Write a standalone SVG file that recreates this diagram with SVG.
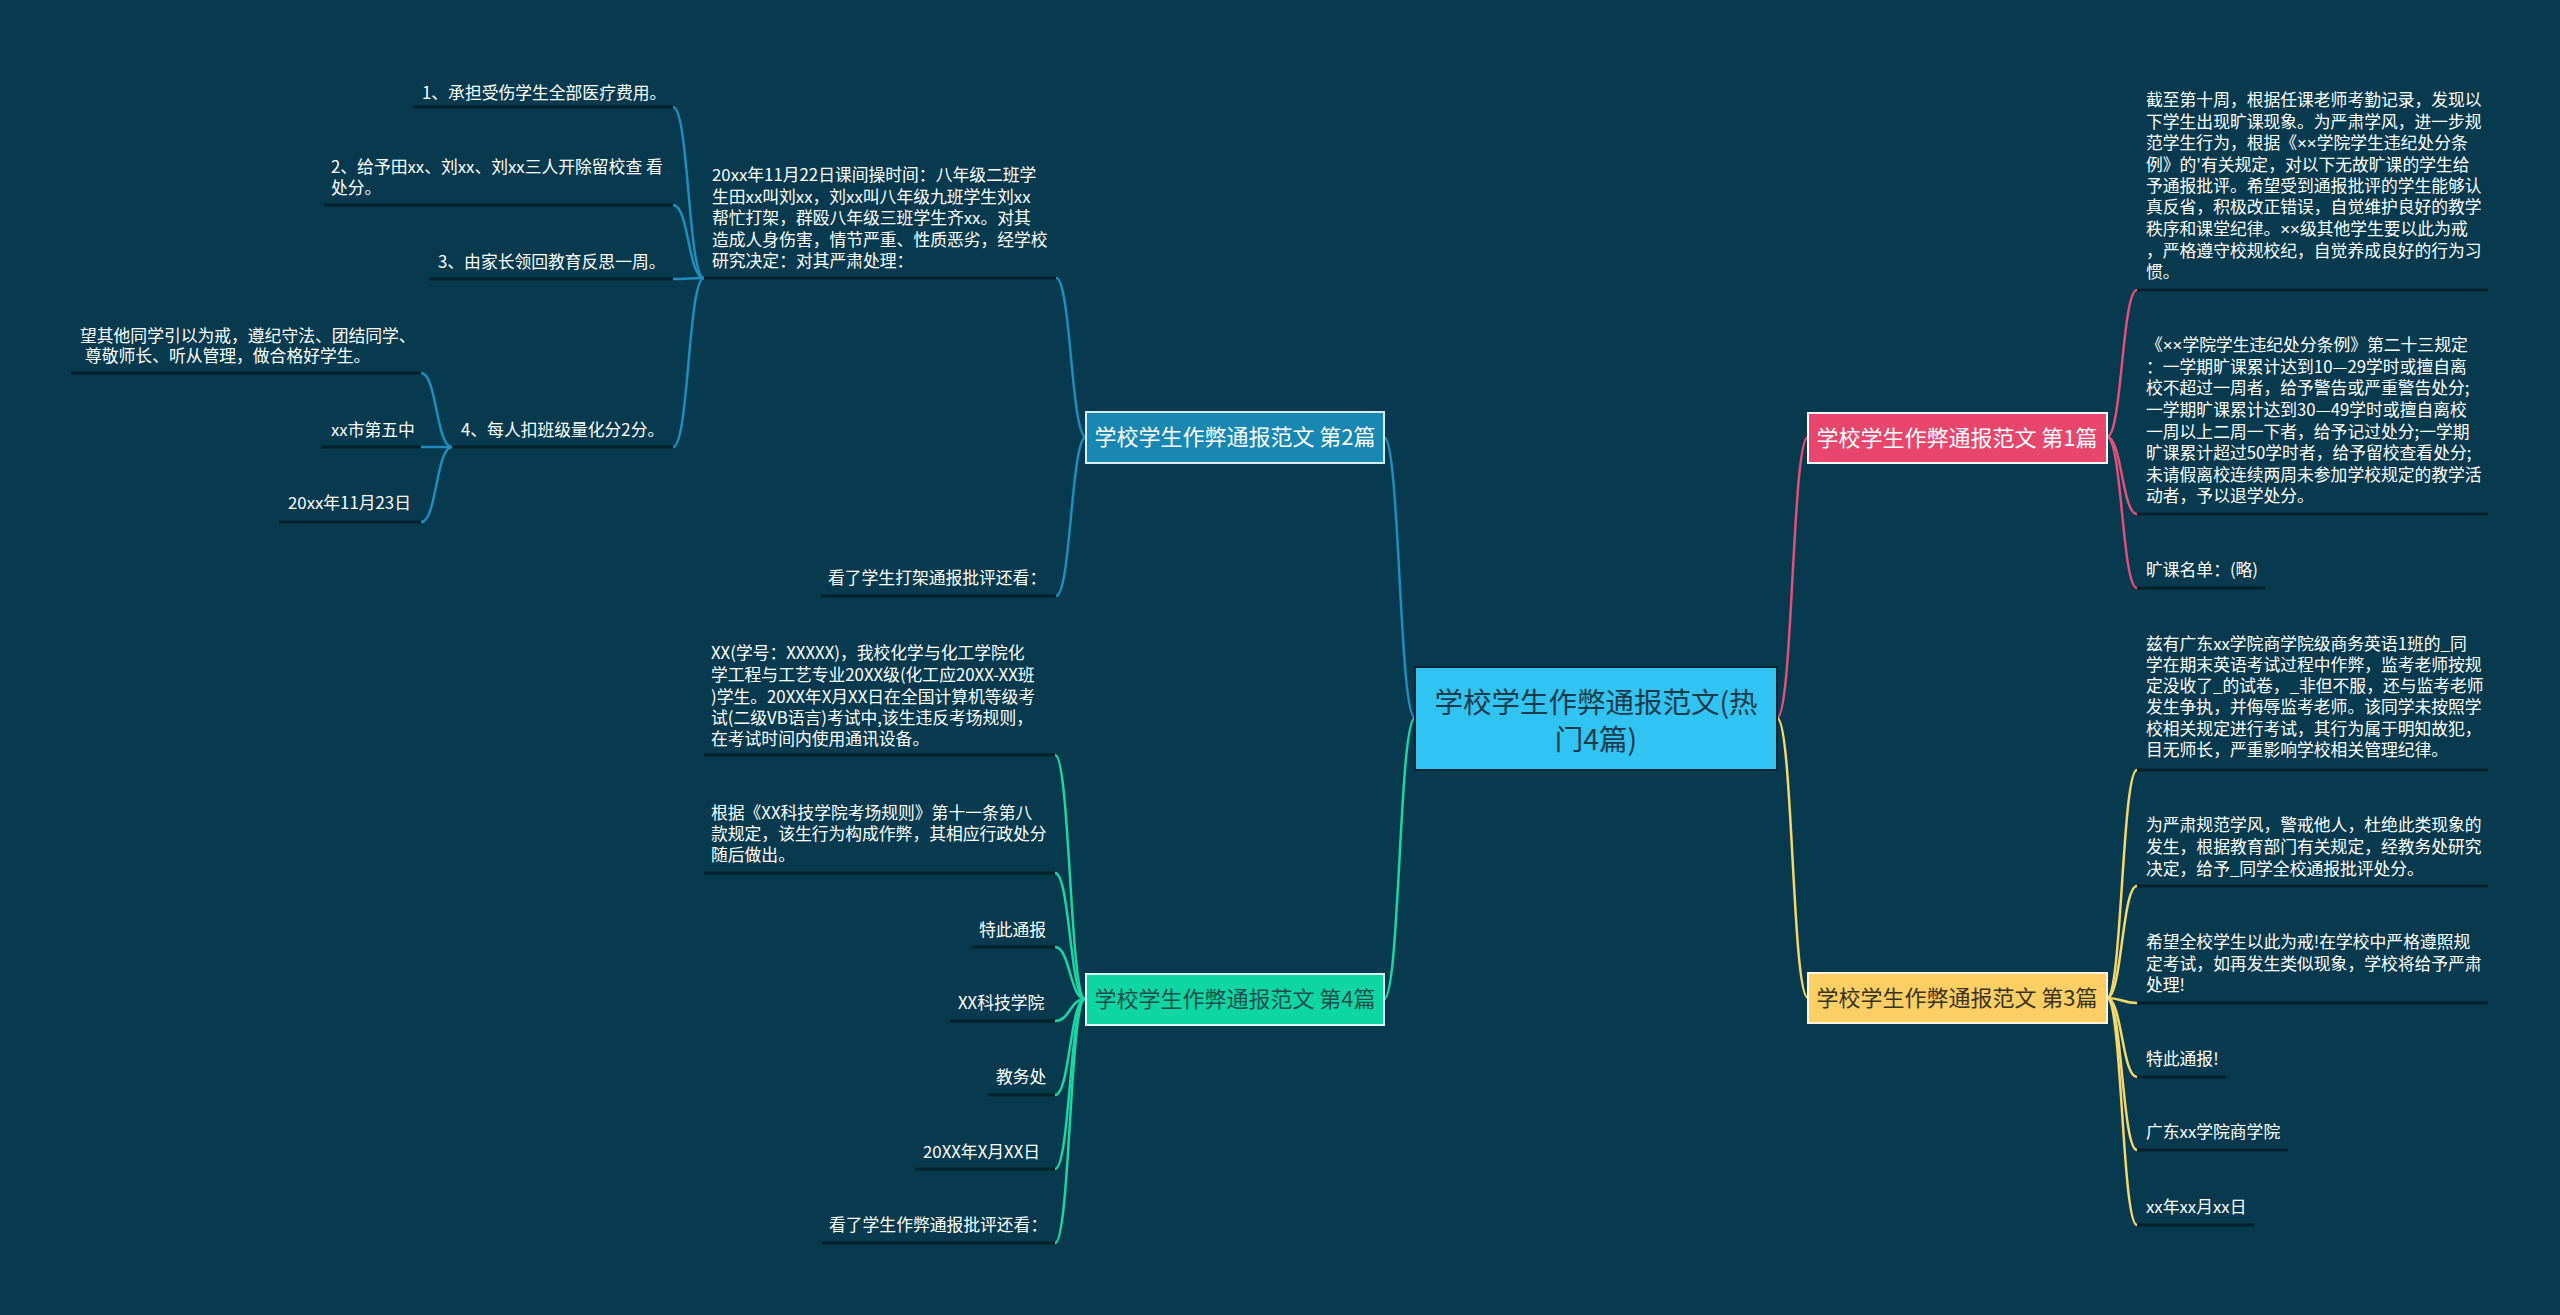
<svg xmlns="http://www.w3.org/2000/svg" width="2560" height="1315" viewBox="0 0 2560 1315">
<style>
text{font-family:"Noto Sans CJK SC","Noto Sans",sans-serif;}
.t{font-size:16.8px;fill:#ffffff;}
.x{font-family:"Liberation Sans",sans-serif;}
.ul{stroke:#04202b;stroke-width:3;fill:none;}
.c{fill:none;stroke-width:2.5;}
.cb{stroke:#1f8dbd;}
.cg{stroke:#1ad6a3;}
.cp{stroke:#e0507a;}
.cy{stroke:#f5d76e;}
.bt{font-size:22px;text-anchor:middle;}
</style>
<rect x="0" y="0" width="2560" height="1315" fill="#073a4e"/>

<g id="connectors">
  <path class="c cb" d="M1415,718 C1399,718 1400,437 1384,437"/>
  <path class="c cg" d="M1415,718 C1399,718 1400,999 1384,999"/>
  <path class="c cp" d="M1777,718 C1793,718 1792,437 1808,437"/>
  <path class="c cy" d="M1777,718 C1793,718 1792,998 1808,998"/>
  <path class="c cb" d="M1086,437 C1071,437 1071,278 1056,278"/>
  <path class="c cb" d="M1086,437 C1071,437 1071,596 1056,596"/>
  <path class="c cb" d="M704,278 C688,278 689,107 673,107"/>
  <path class="c cb" d="M704,278 C688,278 689,205 673,205"/>
  <path class="c cb" d="M704,278 C688,278 689,279 673,279"/>
  <path class="c cb" d="M704,278 C688,278 689,447 673,447"/>
  <path class="c cb" d="M452,447 C436,447 437,373 421,373"/>
  <path class="c cb" d="M452,447 C436,447 437,447 421,447"/>
  <path class="c cb" d="M452,447 C436,447 437,522 421,522"/>
  <path class="c cg" d="M1085,999 C1070,999 1070,755 1055,755"/>
  <path class="c cg" d="M1085,999 C1070,999 1070,873 1055,873"/>
  <path class="c cg" d="M1085,999 C1070,999 1070,947 1055,947"/>
  <path class="c cg" d="M1085,999 C1070,999 1070,1021 1055,1021"/>
  <path class="c cg" d="M1085,999 C1070,999 1070,1095 1055,1095"/>
  <path class="c cg" d="M1085,999 C1070,999 1070,1169 1055,1169"/>
  <path class="c cg" d="M1085,999 C1070,999 1070,1243 1055,1243"/>
  <path class="c cp" d="M2107,437 C2122,437 2122,290 2137,290"/>
  <path class="c cp" d="M2107,437 C2122,437 2122,514 2137,514"/>
  <path class="c cp" d="M2107,437 C2122,437 2122,588 2137,588"/>
  <path class="c cy" d="M2107,998 C2122,998 2122,770 2137,770"/>
  <path class="c cy" d="M2107,998 C2122,998 2122,886 2137,886"/>
  <path class="c cy" d="M2107,998 C2122,998 2122,1003 2137,1003"/>
  <path class="c cy" d="M2107,998 C2122,998 2122,1077 2137,1077"/>
  <path class="c cy" d="M2107,998 C2122,998 2122,1150 2137,1150"/>
  <path class="c cy" d="M2107,998 C2122,998 2122,1225 2137,1225"/>
</g>

<g id="root">
  <rect x="1415" y="667" width="362" height="103" fill="#31c3f1" stroke="#0a2534" stroke-width="2"/>
  <text x="1596" y="713" font-size="28.5" fill="#1b3a4a" text-anchor="middle">学校学生作弊通报范文(热</text>
  <text x="1596" y="750" font-size="28.5" fill="#1b3a4a" text-anchor="middle">门4篇)</text>
</g>

<g id="branch2">
  <rect x="1086" y="412" width="298" height="51" fill="#1888b3" stroke="#d4ecf5" stroke-width="2"/>
  <text class="bt" x="1235" y="445" fill="#ffffff">学校学生作弊通报范文 第2篇</text>
</g>
<g id="branch4">
  <rect x="1086" y="974" width="298" height="51" fill="#0dd6a3" stroke="#dafff3" stroke-width="2"/>
  <text class="bt" x="1235" y="1007" fill="#1e4e4a">学校学生作弊通报范文 第4篇</text>
</g>
<g id="branch1">
  <rect x="1808" y="413" width="299" height="50" fill="#e8466c" stroke="#ffffff" stroke-width="2"/>
  <text class="bt" x="1957" y="446" fill="#ffffff">学校学生作弊通报范文 第1篇</text>
</g>
<g id="branch3">
  <rect x="1808" y="973" width="299" height="50" fill="#fbcf63" stroke="#fff4da" stroke-width="2"/>
  <text class="bt" x="1957" y="1006" fill="#3a3222">学校学生作弊通报范文 第3篇</text>
</g>

<g id="b2c1">
  <line class="ul" x1="704" y1="278" x2="1056" y2="278"/>
  <text class="t"><tspan x="712" y="181">20xx年11月22日课间操时间：八年级二班学</tspan><tspan x="712" y="203">生田xx叫刘xx，刘xx叫八年级九班学生刘xx</tspan><tspan x="712" y="224">帮忙打架，群殴八年级三班学生齐xx。对其</tspan><tspan x="712" y="246">造成人身伤害，情节严重、性质恶劣，经学校</tspan><tspan x="712" y="267">研究决定：对其严肃处理：</tspan></text>
</g>
<g id="b2c1s1">
  <line class="ul" x1="413" y1="107" x2="673" y2="107"/>
  <text class="t" x="422" y="99">1、承担受伤学生全部医疗费用。</text>
</g>
<g id="b2c1s2">
  <line class="ul" x1="324" y1="205" x2="673" y2="205"/>
  <text class="t"><tspan x="331" y="173">2、给予田xx、刘xx、刘xx三人开除留校查 看</tspan><tspan x="331" y="194">处分。</tspan></text>
</g>
<g id="b2c1s3">
  <line class="ul" x1="429" y1="279" x2="673" y2="279"/>
  <text class="t" x="438" y="268">3、由家长领回教育反思一周。</text>
</g>
<g id="b2c1s4">
  <line class="ul" x1="452" y1="447" x2="673" y2="447"/>
  <text class="t" x="461" y="436">4、每人扣班级量化分2分。</text>
</g>
<g id="b2c1s4a">
  <line class="ul" x1="71" y1="373" x2="421" y2="373"/>
  <text class="t"><tspan x="80" y="342">望其他同学引以为戒，遵纪守法、团结同学、</tspan><tspan x="85" y="362">尊敬师长、听从管理，做合格好学生。</tspan></text>
</g>
<g id="b2c1s4b">
  <line class="ul" x1="321" y1="447" x2="421" y2="447"/>
  <text class="t" x="331" y="436">xx市第五中</text>
</g>
<g id="b2c1s4c">
  <line class="ul" x1="279" y1="522" x2="421" y2="522"/>
  <text class="t" x="288" y="509">20xx年11月23日</text>
</g>
<g id="b2c2">
  <line class="ul" x1="821" y1="596" x2="1056" y2="596"/>
  <text class="t" x="828" y="584">看了学生打架通报批评还看：</text>
</g>

<g id="b4c1">
  <line class="ul" x1="704" y1="755" x2="1055" y2="755"/>
  <text class="t"><tspan x="711" y="659">XX(学号：XXXXX)，我校化学与化工学院化</tspan><tspan x="711" y="681">学工程与工艺专业20XX级(化工应20XX-XX班</tspan><tspan x="711" y="703">)学生。20XX年X月XX日在全国计算机等级考</tspan><tspan x="711" y="724">试(二级VB语言)考试中,该生违反考场规则，</tspan><tspan x="711" y="745">在考试时间内使用通讯设备。</tspan></text>
</g>
<g id="b4c2">
  <line class="ul" x1="704" y1="873" x2="1055" y2="873"/>
  <text class="t"><tspan x="711" y="819">根据《XX科技学院考场规则》第十一条第八</tspan><tspan x="711" y="840">款规定，该生行为构成作弊，其相应行政处分</tspan><tspan x="711" y="861">随后做出。</tspan></text>
</g>
<g id="b4c3">
  <line class="ul" x1="972" y1="947" x2="1055" y2="947"/>
  <text class="t" x="979" y="936">特此通报</text>
</g>
<g id="b4c4">
  <line class="ul" x1="950" y1="1021" x2="1055" y2="1021"/>
  <text class="t" x="958" y="1009">XX科技学院</text>
</g>
<g id="b4c5">
  <line class="ul" x1="988" y1="1095" x2="1055" y2="1095"/>
  <text class="t" x="996" y="1083">教务处</text>
</g>
<g id="b4c6">
  <line class="ul" x1="915" y1="1169" x2="1055" y2="1169"/>
  <text class="t" x="923" y="1158">20XX年X月XX日</text>
</g>
<g id="b4c7">
  <line class="ul" x1="822" y1="1243" x2="1055" y2="1243"/>
  <text class="t" x="829" y="1231">看了学生作弊通报批评还看：</text>
</g>

<g id="b1c1">
  <line class="ul" x1="2137" y1="290" x2="2488" y2="290"/>
  <text class="t"><tspan x="2146" y="106">截至第十周，根据任课老师考勤记录，发现以</tspan><tspan x="2146" y="128">下学生出现旷课现象。为严肃学风，进一步规</tspan><tspan x="2146" y="149">范学生行为，根据《<tspan class="x">××</tspan>学院学生违纪处分条</tspan><tspan x="2146" y="171">例》的'有关规定，对以下无故旷课的学生给</tspan><tspan x="2146" y="192">予通报批评。希望受到通报批评的学生能够认</tspan><tspan x="2146" y="213">真反省，积极改正错误，自觉维护良好的教学</tspan><tspan x="2146" y="235">秩序和课堂纪律。<tspan class="x">××</tspan>级其他学生要以此为戒</tspan><tspan x="2146" y="257">，严格遵守校规校纪，自觉养成良好的行为习</tspan><tspan x="2146" y="278">惯。</tspan></text>
</g>
<g id="b1c2">
  <line class="ul" x1="2137" y1="514" x2="2488" y2="514"/>
  <text class="t"><tspan x="2146" y="351">《<tspan class="x">××</tspan>学院学生违纪处分条例》第二十三规定</tspan><tspan x="2146" y="373">：一学期旷课累计达到10—29学时或擅自离</tspan><tspan x="2146" y="394">校不超过一周者，给予警告或严重警告处分;</tspan><tspan x="2146" y="416">一学期旷课累计达到30—49学时或擅自离校</tspan><tspan x="2146" y="438">一周以上二周一下者，给予记过处分;一学期</tspan><tspan x="2146" y="459">旷课累计超过50学时者，给予留校查看处分;</tspan><tspan x="2146" y="481">未请假离校连续两周未参加学校规定的教学活</tspan><tspan x="2146" y="502">动者，予以退学处分。</tspan></text>
</g>
<g id="b1c3">
  <line class="ul" x1="2137" y1="588" x2="2265" y2="588"/>
  <text class="t" x="2146" y="576">旷课名单：(略)</text>
</g>

<g id="b3c1">
  <line class="ul" x1="2137" y1="770" x2="2488" y2="770"/>
  <text class="t"><tspan x="2146" y="650">兹有广东xx学院商学院级商务英语1班的_同</tspan><tspan x="2146" y="671">学在期末英语考试过程中作弊，监考老师按规</tspan><tspan x="2146" y="692">定没收了_的试卷，_非但不服，还与监考老师</tspan><tspan x="2146" y="713">发生争执，并侮辱监考老师。该同学未按照学</tspan><tspan x="2146" y="735">校相关规定进行考试，其行为属于明知故犯，</tspan><tspan x="2146" y="756">目无师长，严重影响学校相关管理纪律。</tspan></text>
</g>
<g id="b3c2">
  <line class="ul" x1="2137" y1="886" x2="2488" y2="886"/>
  <text class="t"><tspan x="2146" y="831">为严肃规范学风，警戒他人，杜绝此类现象的</tspan><tspan x="2146" y="853">发生，根据教育部门有关规定，经教务处研究</tspan><tspan x="2146" y="875">决定，给予_同学全校通报批评处分。</tspan></text>
</g>
<g id="b3c3">
  <line class="ul" x1="2137" y1="1003" x2="2488" y2="1003"/>
  <text class="t"><tspan x="2146" y="948">希望全校学生以此为戒!在学校中严格遵照规</tspan><tspan x="2146" y="970">定考试，如再发生类似现象，学校将给予严肃</tspan><tspan x="2146" y="991">处理!</tspan></text>
</g>
<g id="b3c4">
  <line class="ul" x1="2137" y1="1077" x2="2226" y2="1077"/>
  <text class="t" x="2146" y="1065">特此通报!</text>
</g>
<g id="b3c5">
  <line class="ul" x1="2137" y1="1150" x2="2288" y2="1150"/>
  <text class="t" x="2146" y="1138">广东xx学院商学院</text>
</g>
<g id="b3c6">
  <line class="ul" x1="2137" y1="1225" x2="2254" y2="1225"/>
  <text class="t" x="2146" y="1213">xx年xx月xx日</text>
</g>
</svg>
